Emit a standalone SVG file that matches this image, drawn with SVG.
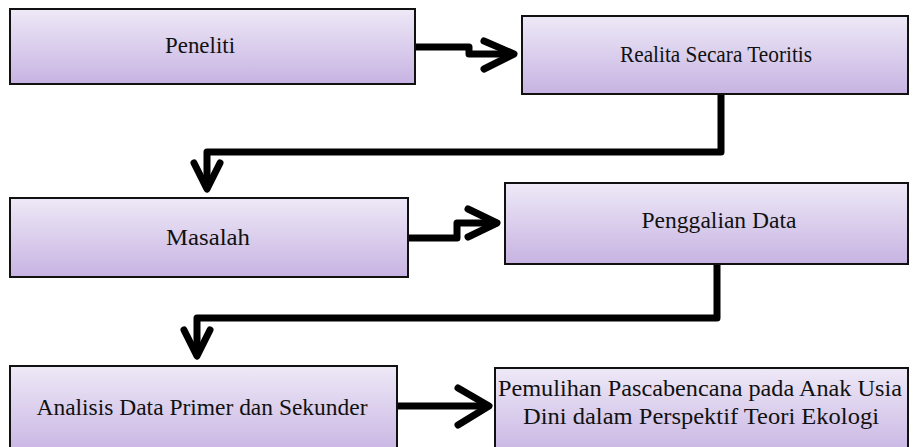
<svg xmlns="http://www.w3.org/2000/svg" width="923" height="447" viewBox="0 0 923 447">
<defs>
<linearGradient id="g" x1="0" y1="0" x2="0" y2="1">
<stop offset="0" stop-color="#EEE9F7"/>
<stop offset="1" stop-color="#C7B3E2"/>
</linearGradient>
<style>
.box{fill:url(#g);stroke:#111;stroke-width:2}
.t{font-family:"Liberation Serif","Times New Roman",serif;font-size:23.5px;fill:#111;text-anchor:middle}
.c{fill:none;stroke:#000;stroke-width:7;stroke-linejoin:round;stroke-linecap:round}
</style>
</defs>
<rect width="923" height="447" fill="#fff"/>
<g id="connectors">
<path class="c" d="M416 47 H469 V54 H512"/>
<path class="c" d="M484 41 L514 54 L484 69"/>
<path class="c" d="M721 94 V152 H207 V186"/>
<path class="c" d="M194 163 L207 189 L220 163"/>
<path class="c" d="M408 238 H457 V223 H496"/>
<path class="c" d="M468 209 L497 223 L468 237"/>
<path class="c" d="M717 265 V318 H197 V354"/>
<path class="c" d="M184 330 L197 356 L210 330"/>
<path class="c" d="M397 406 H487"/>
<path class="c" d="M458 388 L489 406 L458 425"/>
</g>
<g id="peneliti">
<rect class="box" x="10" y="9" width="405" height="75"/>
<text class="t" x="200" y="53" textLength="70" lengthAdjust="spacingAndGlyphs">Peneliti</text>
</g>
<g id="realita">
<rect class="box" x="522" y="16" width="386" height="78"/>
<text class="t" x="716" y="62" textLength="192" lengthAdjust="spacingAndGlyphs">Realita Secara Teoritis</text>
</g>
<g id="masalah">
<rect class="box" x="10" y="198" width="398" height="79"/>
<text class="t" x="208" y="245" textLength="84" lengthAdjust="spacingAndGlyphs">Masalah</text>
</g>
<g id="penggalian">
<rect class="box" x="505" y="183" width="403" height="81"/>
<text class="t" x="719" y="228" textLength="155" lengthAdjust="spacingAndGlyphs">Penggalian Data</text>
</g>
<g id="analisis">
<rect class="box" x="10" y="366" width="387" height="90"/>
<text class="t" x="202" y="415" textLength="331" lengthAdjust="spacingAndGlyphs">Analisis Data Primer dan Sekunder</text>
</g>
<g id="pemulihan">
<rect class="box" x="495" y="368" width="413" height="90"/>
<text class="t" x="700" y="396" textLength="404" lengthAdjust="spacingAndGlyphs">Pemulihan Pascabencana pada Anak Usia</text>
<text class="t" x="701" y="424" textLength="356" lengthAdjust="spacingAndGlyphs">Dini dalam Perspektif Teori Ekologi</text>
</g>
</svg>
